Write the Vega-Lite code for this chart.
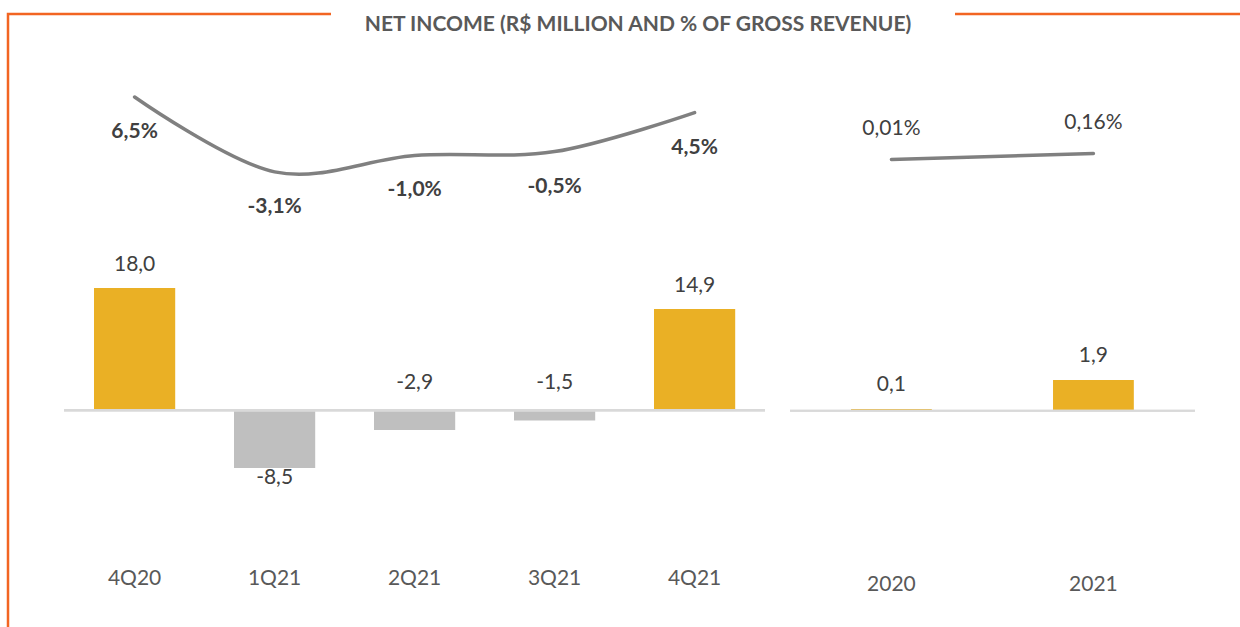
{
  "$schema": "https://vega.github.io/schema/vega-lite/v6.json",
  "padding": {"left": 6, "top": 12, "right": 0, "bottom": 0},
  "background": "white",
  "config": {
    "font": "Lato",
    "locale": {"number": {"decimal": ",", "thousands": ".", "grouping": [3], "currency": ["R$", ""], "minus": "-", "percent": "%"}},
    "concat": {"spacing": 19}
  },
  "title": {"text": "NET INCOME (R$ MILLION AND % OF GROSS REVENUE)", "font": "Lato", "fontSize": 21, "fontWeight": "bold", "color": "#595959", "anchor": "middle", "offset": -22, "dx": 14},
  "datasets": {
    "q": [
      {"period": "4Q20", "ni": 18.0, "margin": 0.065},
      {"period": "1Q21", "ni": -8.5, "margin": -0.031},
      {"period": "2Q21", "ni": -2.9, "margin": -0.010},
      {"period": "3Q21", "ni": -1.5, "margin": -0.005},
      {"period": "4Q21", "ni": 14.9, "margin": 0.045}
    ],
    "y": [
      {"period": "2020", "ni": 0.1, "margin": 0.0001},
      {"period": "2021", "ni": 1.9, "margin": 0.0016}
    ]
  },
  "hconcat": [
    {
      "width": 757,
      "height": 614,
      "data": {"name": "q"},
      "view": {"stroke": "#F26522", "strokeWidth": 2.5, "strokeDash": [323, 1805, 614, 300]},
      "encoding": {
        "x": {"field": "period", "type": "nominal", "sort": null,
          "scale": {"type": "band", "paddingInner": 0.42, "paddingOuter": 0.4136, "align": 0.7427},
          "axis": {"title": null, "domain": false, "ticks": false, "grid": false, "labelAngle": 0, "orient": "bottom", "offset": -50, "labelPadding": 0, "labelBaseline": "middle", "labelFont": "Lato", "labelFontSize": 21, "labelColor": "#595959"}}
      },
      "layer": [
        {
          "mark": {"type": "bar"},
          "encoding": {
            "y": {"field": "ni", "type": "quantitative", "scale": {"domain": [-32.01, 58.28], "nice": false, "zero": false}, "axis": null},
            "color": {"condition": {"test": "datum.ni >= 0", "value": "#EAB025"}, "value": "#BFBFBF"}
          }
        },
        {
          "mark": {"type": "rule", "color": "#D9D9D9", "strokeWidth": 2},
          "encoding": {
            "y": {"datum": 0, "type": "quantitative", "scale": {"domain": [-32.01, 58.28], "nice": false, "zero": false}, "axis": null},
            "x": {"datum": "4Q20", "bandPosition": -0.369},
            "x2": {"datum": "4Q21", "bandPosition": 1.367}
          }
        },
        {
          "transform": [{"filter": "datum.ni >= 0"}],
          "mark": {"type": "text", "dy": -23, "baseline": "middle", "fontSize": 21, "color": "#404040"},
          "encoding": {
            "y": {"field": "ni", "type": "quantitative", "scale": {"domain": [-32.01, 58.28], "nice": false, "zero": false}, "axis": null},
            "text": {"field": "ni", "type": "quantitative", "format": ".1f"}
          }
        },
        {
          "transform": [{"filter": "datum.ni < -5"}],
          "mark": {"type": "text", "dy": 10, "baseline": "middle", "fontSize": 21, "color": "#404040"},
          "encoding": {
            "y": {"field": "ni", "type": "quantitative", "scale": {"domain": [-32.01, 58.28], "nice": false, "zero": false}, "axis": null},
            "text": {"field": "ni", "type": "quantitative", "format": ".1f"}
          }
        },
        {
          "transform": [{"filter": "datum.ni < 0 && datum.ni >= -5"}],
          "mark": {"type": "text", "dy": -27, "baseline": "middle", "fontSize": 21, "color": "#404040"},
          "encoding": {
            "y": {"datum": 0, "type": "quantitative", "scale": {"domain": [-32.01, 58.28], "nice": false, "zero": false}, "axis": null},
            "text": {"field": "ni", "type": "quantitative", "format": ".1f"}
          }
        },
        {
          "mark": {"type": "line", "interpolate": "cardinal", "color": "#808080", "strokeWidth": 3.5, "strokeCap": "round"},
          "encoding": {
            "y": {"field": "margin", "type": "quantitative", "scale": {"domain": [-0.61577, 0.17141], "nice": false, "zero": false}, "axis": null}
          }
        },
        {
          "mark": {"type": "text", "dy": 35, "baseline": "middle", "fontSize": 21, "fontWeight": "bold", "color": "#404040"},
          "encoding": {
            "y": {"field": "margin", "type": "quantitative", "scale": {"domain": [-0.61577, 0.17141], "nice": false, "zero": false}, "axis": null},
            "text": {"field": "margin", "type": "quantitative", "format": ".1%"}
          }
        }
      ],
      "resolve": {"scale": {"y": "independent"}}
    },
    {
      "width": 450,
      "height": 614,
      "data": {"name": "y"},
      "view": {"stroke": "#F26522", "strokeWidth": 2.5, "strokeDash": [0, 165, 285, 3000]},
      "encoding": {
        "x": {"field": "period", "type": "nominal", "sort": null,
          "scale": {"type": "band", "paddingInner": 0.6, "paddingOuter": 0.4139, "align": 0.365},
          "axis": {"title": null, "domain": false, "ticks": false, "grid": false, "labelAngle": 0, "orient": "bottom", "offset": -44, "labelPadding": 0, "labelBaseline": "middle", "labelFont": "Lato", "labelFontSize": 21, "labelColor": "#595959"}}
      },
      "layer": [
        {
          "mark": {"type": "bar"},
          "encoding": {
            "y": {"field": "ni", "type": "quantitative", "scale": {"domain": [-13.5, 24.64], "nice": false, "zero": false}, "axis": null},
            "color": {"condition": {"test": "datum.ni >= 0", "value": "#EAB025"}, "value": "#BFBFBF"}
          }
        },
        {
          "mark": {"type": "rule", "color": "#D9D9D9", "strokeWidth": 2},
          "encoding": {
            "y": {"datum": 0, "type": "quantitative", "scale": {"domain": [-13.5, 24.64], "nice": false, "zero": false}, "axis": null},
            "x": {"datum": "2020", "bandPosition": -0.755},
            "x2": {"datum": "2021", "bandPosition": 1.757}
          }
        },
        {
          "mark": {"type": "text", "dy": -24, "baseline": "middle", "fontSize": 21, "color": "#404040"},
          "encoding": {
            "y": {"field": "ni", "type": "quantitative", "scale": {"domain": [-13.5, 24.64], "nice": false, "zero": false}, "axis": null},
            "text": {"field": "ni", "type": "quantitative", "format": ".1f"}
          }
        },
        {
          "mark": {"type": "line", "color": "#808080", "strokeWidth": 3.5, "strokeCap": "round"},
          "encoding": {
            "y": {"field": "margin", "type": "quantitative", "scale": {"domain": [-0.117025, 0.036475], "nice": false, "zero": false}, "axis": null}
          }
        },
        {
          "mark": {"type": "text", "dy": -31, "baseline": "middle", "fontSize": 21, "color": "#404040"},
          "encoding": {
            "y": {"field": "margin", "type": "quantitative", "scale": {"domain": [-0.117025, 0.036475], "nice": false, "zero": false}, "axis": null},
            "text": {"field": "margin", "type": "quantitative", "format": ".2%"}
          }
        }
      ],
      "resolve": {"scale": {"y": "independent"}}
    }
  ]
}
